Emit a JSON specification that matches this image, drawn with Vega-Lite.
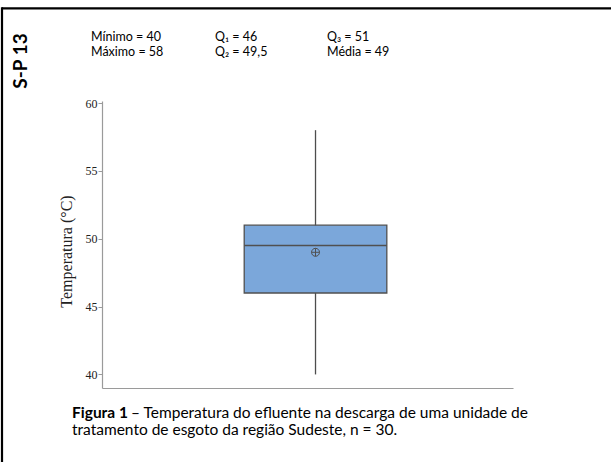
{
  "$schema": "https://vega.github.io/schema/vega-lite/v6.json",
  "width": 411,
  "height": 287,
  "autosize": {"type": "none"},
  "padding": {"left": 102, "top": 101, "right": 98, "bottom": 74},
  "background": "white",
  "config": {"view": {"stroke": null}},
  "data": {"values": [{"min": 40, "q1": 46, "median": 49.5, "q3": 51, "max": 58, "mean": 49}]},
  "layer": [
    {
      "mark": {"type": "rule", "color": "#4d4d4d", "strokeWidth": 1.3},
      "encoding": {
        "x": {"datum": 0.5195, "type": "quantitative", "scale": {"domain": [0, 1], "nice": false, "zero": false},
              "axis": {"title": null, "labels": false, "ticks": false, "grid": false, "domainColor": "#9a9a9a", "domainWidth": 1.2}},
        "y": {"field": "min", "type": "quantitative", "scale": {"domain": [39, 60.15], "nice": false, "zero": false},
              "axis": {"title": "Temperatura  (°C)", "titleFont": "Liberation Serif", "titleFontSize": 16, "titleFontWeight": "normal", "titleColor": "#222",
                       "labelFont": "Liberation Serif", "labelFontSize": 12, "labelColor": "#222", "values": [40, 45, 50, 55, 60],
                       "tickSize": 4, "tickColor": "#9a9a9a", "domainColor": "#9a9a9a", "domainWidth": 1.2, "labelPadding": 1, "grid": false,
                       "titleX": -36, "titleY": 150, "titleAngle": -90, "titleAlign": "center", "titleBaseline": "middle"}},
        "y2": {"field": "max"}
      }
    },
    {
      "mark": {"type": "rect", "fill": "#7BA7DA", "stroke": "#505050", "strokeWidth": 1.3},
      "encoding": {
        "x": {"datum": 0.346, "type": "quantitative"},
        "x2": {"datum": 0.693},
        "y": {"field": "q1", "type": "quantitative"},
        "y2": {"field": "q3"}
      }
    },
    {
      "mark": {"type": "rule", "color": "#505050", "strokeWidth": 1.3},
      "encoding": {
        "x": {"datum": 0.346, "type": "quantitative"},
        "x2": {"datum": 0.693},
        "y": {"field": "median", "type": "quantitative"}
      }
    },
    {
      "mark": {"type": "point", "shape": "M-1,0A1,1,0,1,1,1,0A1,1,0,1,1,-1,0ZM-1,0L1,0M0,-1L0,1", "size": 64, "filled": false, "stroke": "#505050", "strokeWidth": 1, "opacity": 1},
      "encoding": {
        "x": {"datum": 0.5195, "type": "quantitative"},
        "y": {"field": "mean", "type": "quantitative"}
      }
    },
    {
      "mark": {"type": "rule", "color": "black", "strokeWidth": 2.2},
      "encoding": {
        "x": {"datum": -0.2433, "type": "quantitative"},
        "x2": {"datum": 1.3},
        "y": {"datum": 66.97, "type": "quantitative"}
      }
    },
    {
      "mark": {"type": "rule", "color": "black", "strokeWidth": 2.2},
      "encoding": {
        "x": {"datum": -0.2433, "type": "quantitative"},
        "y": {"datum": 67.05, "type": "quantitative"},
        "y2": {"datum": 30}
      }
    },
    {
      "mark": {"type": "text", "text": "S-P 13", "font": "Lato", "fontWeight": "bold", "fontSize": 19, "angle": 270, "align": "center", "baseline": "middle", "color": "black"},
      "encoding": {
        "x": {"datum": -0.1959, "type": "quantitative"},
        "y": {"datum": 63.1, "type": "quantitative"}
      }
    },
    {
      "mark": {"type": "text", "text": "Mínimo = 40", "font": "Lato", "fontSize": 12.5, "align": "left", "baseline": "alphabetic", "color": "black"},
      "encoding": {"x": {"datum": -0.0268, "type": "quantitative"}, "y": {"datum": 64.54, "type": "quantitative"}}
    },
    {
      "mark": {"type": "text", "text": "Máximo = 58", "font": "Lato", "fontSize": 12.5, "align": "left", "baseline": "alphabetic", "color": "black"},
      "encoding": {"x": {"datum": -0.0268, "type": "quantitative"}, "y": {"datum": 63.47, "type": "quantitative"}}
    },
    {
      "mark": {"type": "text", "text": "Q₁ = 46", "font": "Lato", "fontSize": 12.5, "align": "left", "baseline": "alphabetic", "color": "black"},
      "encoding": {"x": {"datum": 0.2749, "type": "quantitative"}, "y": {"datum": 64.54, "type": "quantitative"}}
    },
    {
      "mark": {"type": "text", "text": "Q₂ = 49,5", "font": "Lato", "fontSize": 12.5, "align": "left", "baseline": "alphabetic", "color": "black"},
      "encoding": {"x": {"datum": 0.2749, "type": "quantitative"}, "y": {"datum": 63.47, "type": "quantitative"}}
    },
    {
      "mark": {"type": "text", "text": "Q₃ = 51", "font": "Lato", "fontSize": 12.5, "align": "left", "baseline": "alphabetic", "color": "black"},
      "encoding": {"x": {"datum": 0.5474, "type": "quantitative"}, "y": {"datum": 64.54, "type": "quantitative"}}
    },
    {
      "mark": {"type": "text", "text": "Média = 49", "font": "Lato", "fontSize": 12.5, "align": "left", "baseline": "alphabetic", "color": "black"},
      "encoding": {"x": {"datum": 0.5474, "type": "quantitative"}, "y": {"datum": 63.47, "type": "quantitative"}}
    },
    {
      "mark": {"type": "text", "text": "Figura 1", "font": "Lato", "fontWeight": "bold", "fontSize": 15.5, "align": "left", "baseline": "alphabetic", "color": "black"},
      "encoding": {
        "x": {"datum": -0.073, "type": "quantitative"},
        "y": {"datum": 36.79, "type": "quantitative"}
      }
    },
    {
      "mark": {"type": "text", "text": "– Temperatura do efluente na descarga de uma unidade de", "font": "Lato", "fontSize": 15.5, "align": "left", "baseline": "alphabetic", "color": "black"},
      "encoding": {
        "x": {"datum": 0.0706, "type": "quantitative"},
        "y": {"datum": 36.79, "type": "quantitative"}
      }
    },
    {
      "mark": {"type": "text", "text": "tratamento de esgoto da região Sudeste, n = 30.", "font": "Lato", "fontSize": 15.5, "align": "left", "baseline": "alphabetic", "color": "black"},
      "encoding": {
        "x": {"datum": -0.073, "type": "quantitative"},
        "y": {"datum": 35.53, "type": "quantitative"}
      }
    }
  ]
}
